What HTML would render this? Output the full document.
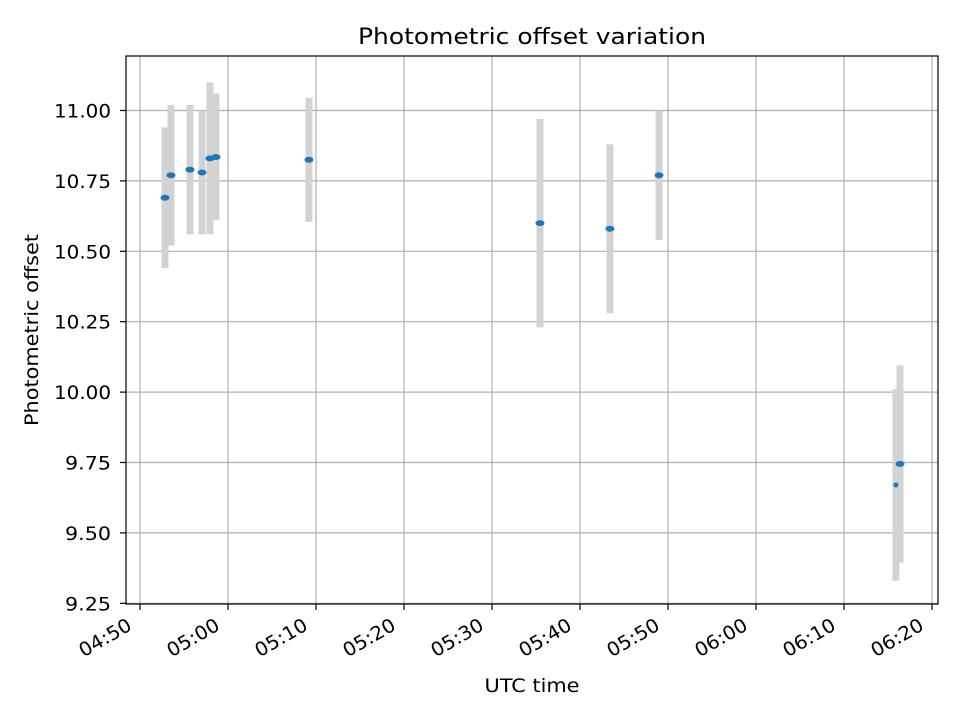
<!DOCTYPE html>
<html><head><meta charset="utf-8"><style>
body{margin:0;background:#fff;}
svg{display:block;font-family:"DejaVu Sans","Liberation Sans",sans-serif;}
</style></head><body>
<svg id="chart" width="960" height="720" viewBox="0 0 960 720">
<rect width="960" height="720" fill="#fff"/>
<text x="532" y="44" font-size="22" text-anchor="middle" textLength="348" lengthAdjust="spacingAndGlyphs">Photometric offset variation</text>
<g id="grid"></g>
<g id="bars"></g>
<g id="points"></g>
<g id="axes"></g>
<text x="532" y="692" font-size="19" text-anchor="middle" textLength="95" lengthAdjust="spacingAndGlyphs">UTC time</text>
<text transform="translate(38,330) rotate(-90)" font-size="19" text-anchor="middle" textLength="192" lengthAdjust="spacingAndGlyphs">Photometric offset</text>
</svg>
<script>
// minutes since 04:50 UTC
const times=[2.84,3.52,5.68,7.05,7.95,8.64,19.2,45.45,53.4,58.98,85.9,86.36];
const offsets=[10.69,10.77,10.79,10.78,10.83,10.835,10.825,10.60,10.58,10.77,9.67,9.745];
const errors=[0.25,0.25,0.23,0.22,0.27,0.225,0.22,0.37,0.30,0.23,0.34,0.35];
const xTickLabels=["04:50","05:00","05:10","05:20","05:30","05:40","05:50","06:00","06:10","06:20"];
const yTicks=[9.25,9.5,9.75,10.0,10.25,10.5,10.75,11.0];

const L=126,R=938,T=56,B=604;
const x=m=>140+m*8.8;
const y=v=>110.5+(11-v)*281.6;
const NS="http://www.w3.org/2000/svg";
function mk(tag,attrs,parent){const e=document.createElementNS(NS,tag);for(const k in attrs)e.setAttribute(k,attrs[k]);parent.appendChild(e);return e;}
const grid=document.getElementById('grid'),axes=document.getElementById('axes'),bars=document.getElementById('bars'),pts=document.getElementById('points');

xTickLabels.forEach((lab,i)=>{
  const px=x(i*10);
  const g=mk('line',{x1:px,x2:px,y1:T,y2:B,stroke:'#b0b0b0','stroke-width':1.2},grid);
  
  
  mk('line',{x1:px,x2:px,y1:B,y2:B+6,stroke:'#000','stroke-width':1.2},axes);
  const t=mk('text',{x:0,y:0,'font-size':19,'text-anchor':'end',textLength:57,lengthAdjust:'spacingAndGlyphs',transform:`translate(${px-7},${B+25}) rotate(-30)`},axes);
  t.textContent=lab;
  
  
});
yTicks.forEach(v=>{
  const py=y(v);
  const g=mk('line',{x1:L,x2:R,y1:py,y2:py,stroke:'#b0b0b0','stroke-width':1.2},grid);
  
  
  mk('line',{x1:L-6,x2:L,y1:py,y2:py,stroke:'#000','stroke-width':1.2},axes);
  const lab=v.toFixed(2);
  const t=mk('text',{x:L-15,y:py+7,'font-size':19,'text-anchor':'end',textLength:lab.length===5?57:46,lengthAdjust:'spacingAndGlyphs'},axes);
  t.textContent=lab;
  
  
});
const frame=mk('rect',{x:L,y:T,width:R-L,height:B-T,fill:'none',stroke:'#000','stroke-width':1.2},axes);



times.forEach((m,i)=>{
  const px=x(m),v=offsets[i],e=errors[i];
  const b=mk('rect',{x:px-3.5,y:y(v+e),width:7,height:y(v-e)-y(v+e),fill:'#d3d3d3'},bars);
  
  
});
times.forEach((m,i)=>{
  const small=i===10;
  const p=mk('ellipse',{cx:x(times[i]),cy:y(offsets[i]),rx:small?2.5:4.5,ry:small?2.5:3,fill:'#1f77b4'},pts);
  
  
});
</script>
</body></html>
